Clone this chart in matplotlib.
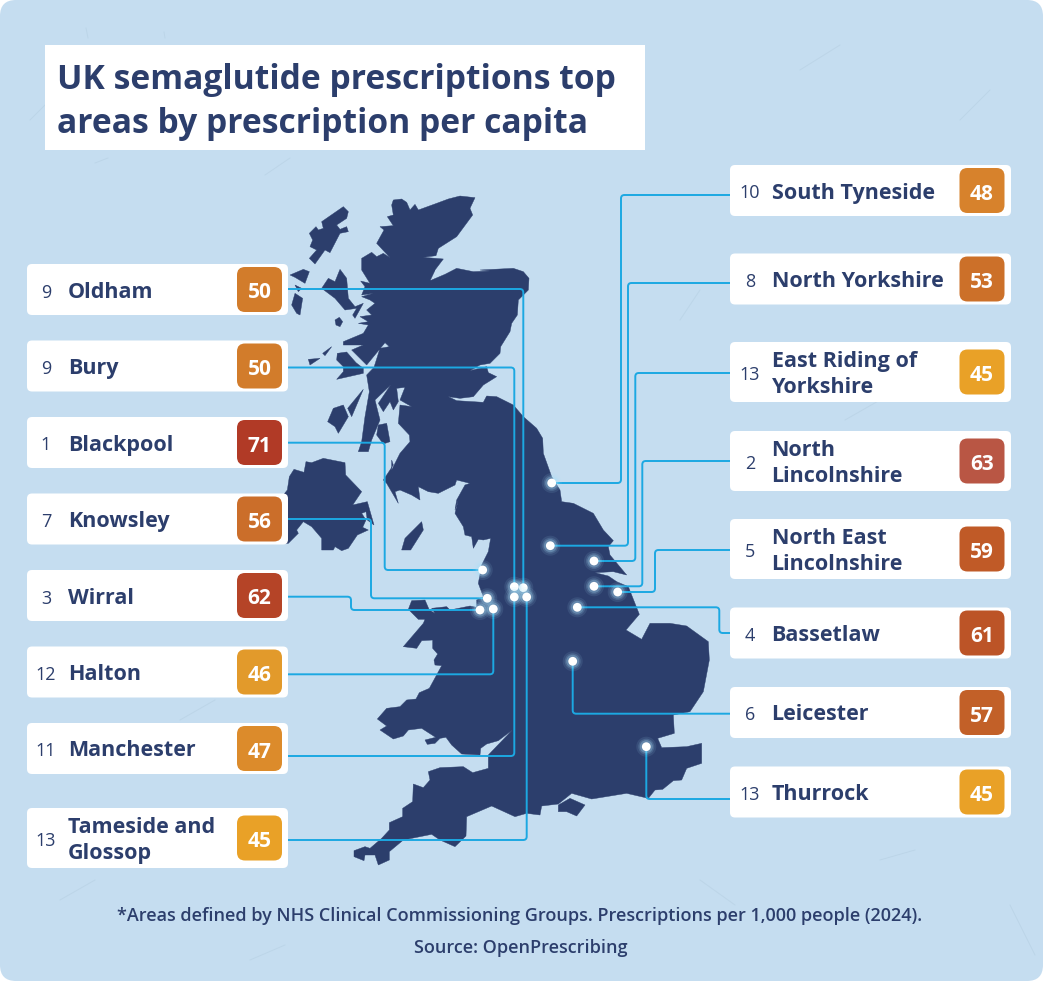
import matplotlib
matplotlib.use("Agg")
import matplotlib.pyplot as plt
from matplotlib.patches import FancyBboxPatch, Polygon, PathPatch, Circle
from matplotlib.path import Path

plt.rcParams['font.family'] = ['Open Sans', 'DejaVu Sans']

navy = '#2C3E6C'
line_blue = '#1CA8E2'
sea = '#C5DDF0'

# left column
ranks_left = [9, 9, 1, 7, 3, 12, 11, 13]
names_left = ['Oldham', 'Bury', 'Blackpool', 'Knowsley', 'Wirral', 'Halton', 'Manchester', 'Tameside and\nGlossop']
values_left = [50, 50, 71, 56, 62, 46, 47, 45]
colors_left = ['#D27C2B', '#D27C2B', '#B13A26', '#CB6E2A', '#B54427', '#E29A2B', '#DC8B2B', '#E9A127']
y_left = [289.5, 366, 442.5, 519, 595.5, 672, 748.5, 838]

# right column
ranks_right = [10, 8, 13, 2, 5, 4, 6, 13]
names_right = ['South Tyneside', 'North Yorkshire', 'East Riding of\nYorkshire', 'North\nLincolnshire',
               'North East\nLincolnshire', 'Bassetlaw', 'Leicester', 'Thurrock']
values_right = [48, 53, 45, 63, 59, 61, 57, 45]
colors_right = ['#D7822C', '#CC7029', '#E9A127', '#B95644', '#C05A27', '#BC5427', '#C26028', '#E9A127']
y_right = [190.5, 279, 372, 461, 549, 633, 712.5, 792]

# connector routes, label end first, dot last
routes_left = [
    [(288, 289), (523.3, 289), (523.3, 587.7)],
    [(288, 367.5), (514.3, 367.5), (514.3, 586.7)],
    [(288, 442.7), (384.7, 442.7), (384.7, 570), (482.7, 570)],
    [(288, 519), (371, 519), (371, 598.3), (487.3, 598.3)],
    [(288, 596.7), (351, 596.7), (351, 610), (480, 610)],
    [(288, 674.3), (493.3, 674.3), (493.3, 609)],
    [(288, 756), (514.3, 756), (514.3, 597)],
    [(288, 840), (526.7, 840), (526.7, 597)],
]
routes_right = [
    [(730, 195), (621, 195), (621, 483), (551.7, 483)],
    [(730, 283), (628, 283), (628, 545.7), (550.3, 545.7)],
    [(730, 373), (635.3, 373), (635.3, 561), (594, 561)],
    [(730, 461), (642.3, 461), (642.3, 586.3), (594, 586.3)],
    [(730, 550), (655, 550), (655, 592), (617.7, 592)],
    [(730, 633), (719.3, 633), (719.3, 607.3), (577.3, 607.3)],
    [(730, 713.7), (572.7, 713.7), (572.7, 661.3)],
    [(730, 799), (646.3, 799), (646.3, 746.7)],
]

# map outlines, each list in its own 3x crop
highland_north = [(100, 15), (125, 12), (140, 22), (150, 45), (165, 28), (175, 45), (230, 25), (265, 12), (300, 3), (345, 8),
                  (330, 40), (338, 60), (290, 125), (235, 160), (228, 182), (190, 187), (250, 192), (225, 225), (175, 245),
                  (185, 232), (225, 226), (205, 268), (175, 272), (255, 238), (290, 220), (340, 230), (390, 228)]
east_scotland = [(600, 240), (700, 235), (730, 245), (747, 265), (745, 300), (715, 330), (712, 375), (695, 400), (690, 425),
                 (662, 470), (660, 490), (630, 520), (600, 525), (570, 542), (620, 530), (625, 548), (650, 560), (610, 585),
                 (580, 620), (540, 625), (505, 620), (530, 632), (610, 637), (620, 618), (650, 620), (700, 645), (730, 680),
                 (770, 715), (788, 745), (790, 790), (815, 860), (840, 900)]
south_coast = [(665, 5), (700, 10), (760, 40), (790, 90), (820, 122), (805, 140), (810, 165), (860, 225), (820, 215),
               (765, 218), (805, 228), (830, 245), (865, 260), (898, 343), (858, 390), (905, 418), (930, 370), (990, 370),
               (1040, 378), (1105, 425), (1108, 480), (1090, 575), (1050, 635), (1000, 645), (1003, 700), (953, 715),
               (965, 743), (1040, 740), (1085, 730), (1085, 790), (1040, 805), (1025, 840), (1000, 842), (968, 868),
               (945, 870), (925, 895), (860, 880), (755, 897), (695, 880), (655, 912), (605, 918), (600, 945), (560, 940),
               (525, 950), (455, 918), (380, 950), (378, 1008), (345, 1040), (300, 1020), (275, 1003), (190, 1020),
               (148, 1055), (148, 1080), (115, 1095), (105, 1065), (75, 1065), (72, 1082), (42, 1070), (42, 1052),
               (75, 1040), (90, 1045), (125, 1015), (148, 990), (148, 968), (188, 950), (188, 925), (218, 905), (220, 852),
               (250, 863), (270, 840), (265, 815), (300, 803), (370, 800), (398, 818), (445, 805), (445, 765), (517, 690),
               (475, 722), (440, 732), (422, 745), (420, 765), (365, 762), (335, 735), (318, 712), (300, 715), (285, 730),
               (262, 733), (255, 720), (287, 712), (245, 685), (205, 690), (190, 708), (160, 717), (120, 690), (140, 678),
               (112, 657), (140, 625), (180, 620), (200, 600), (228, 597), (238, 578), (268, 565), (305, 497), (285, 495),
               (282, 480), (293, 462), (278, 445), (278, 420), (245, 422), (230, 445), (190, 440), (250, 370), (255, 358),
               (235, 358), (205, 328), (215, 302), (255, 300), (268, 330), (285, 340), (275, 325), (320, 320), (330, 330),
               (390, 318), (410, 322), (410, 300), (430, 290), (415, 250), (425, 195), (445, 155), (452, 115), (430, 120),
               (415, 118), (400, 145), (395, 110), (375, 105), (370, 80), (345, 40), (355, 0)]
solway = [(525, 960), (530, 930), (555, 885), (570, 880), (530, 870), (525, 885), (475, 910), (445, 905), (415, 890),
          (420, 930), (395, 915), (360, 900), (345, 905), (355, 940), (320, 880), (310, 870), (340, 825), (335, 810)]
clyde = [(125, 390), (150, 340), (180, 305), (178, 285), (145, 250), (150, 195), (185, 200), (150, 180), (165, 142),
         (140, 145), (145, 185), (130, 210), (120, 185), (100, 215), (85, 190), (122, 135), (75, 180), (90, 240),
         (65, 300), (55, 335), (25, 335), (35, 305), (45, 230), (58, 155), (50, 105), (72, 82), (90, 25), (118, 20),
         (105, 8), (50, 75)]
west_lochs = [(215, 480), (250, 465), (190, 465), (190, 455), (250, 430), (265, 405), (235, 400), (265, 395), (240, 380),
              (275, 375), (260, 360), (285, 340), (270, 330), (245, 320), (280, 310), (245, 315), (255, 290)]
highland_west = [(2, 258), (30, 265), (5, 225), (5, 190), (35, 172), (50, 185), (70, 175), (90, 188), (50, 145), (72, 105),
                 (60, 95), (100, 92), (82, 65), (100, 60), (95, 30)]
islands_a = [
    [(205, 65), (190, 50), (125, 95), (130, 115), (115, 120), (108, 110), (88, 130), (98, 150), (90, 170), (110, 180),
     (88, 205), (105, 222), (135, 180), (150, 188), (180, 130), (205, 125), (200, 110), (180, 118), (170, 105), (200, 85)],
    [(30, 255), (70, 238), (88, 245), (75, 280), (45, 262)],
    [(45, 285), (65, 295), (55, 305)],
    [(45, 310), (68, 325), (60, 375), (50, 370), (35, 345)],
    [(180, 238), (200, 265), (205, 325), (225, 350), (250, 340), (225, 385), (218, 375), (230, 355), (195, 360),
     (165, 325), (125, 295), (145, 265), (165, 275)],
    [(165, 390), (178, 382), (188, 395), (180, 410), (168, 405)],
    [(85, 508), (120, 505), (90, 525)],
    [(128, 490), (155, 470), (135, 497)],
    [(172, 490), (200, 486), (228, 518), (250, 535), (250, 550), (170, 568), (190, 545), (190, 530), (170, 510)],
    [(250, 598), (215, 680), (203, 655)],
    [(160, 655), (190, 645), (205, 680), (175, 730), (165, 710), (143, 695)],
    [(295, 705), (320, 700), (330, 755), (310, 762), (290, 735)],
]
ireland = [(0, 165), (10, 165), (22, 150), (28, 110), (42, 88), (72, 97), (78, 65), (95, 68), (130, 55), (195, 68),
           (197, 105), (245, 155), (218, 195), (262, 185), (282, 255), (262, 240), (258, 215), (245, 220), (258, 240),
           (248, 262), (265, 270), (232, 285), (205, 325), (185, 332), (165, 320), (160, 330), (125, 330), (125, 295),
           (95, 260), (70, 245), (50, 270), (55, 280), (25, 310), (0, 310)]
islands_b = [
    [(245, 65), (250, 90), (212, 150), (185, 150), (195, 115)],
    [(655, 915), (690, 895), (735, 915), (710, 948), (680, 935), (655, 935)],
]

# a few of the paper fibres in the background
fibres = [[(86, 28), (88, 38)], [(164, 32), (165, 38)], [(95, 163), (108, 158)], [(160, 112), (200, 85)],
          [(265, 175), (290, 158)], [(30, 120), (45, 105)], [(800, 70), (840, 45)], [(960, 120), (990, 90)],
          [(700, 880), (735, 905)], [(1010, 905), (1035, 955)], [(60, 900), (95, 880)], [(880, 860), (915, 850)],
          [(680, 320), (700, 290)], [(180, 720), (215, 700)], [(845, 420), (880, 400)], [(250, 960), (285, 945)]]


def crop(pts, x0, y0):
    return [(x0 + x / 3, y0 + y / 3) for x, y in pts]


def rounded_line(pts, r=3.5):
    # polyline with small rounded elbows
    verts = [pts[0]]
    codes = [Path.MOVETO]
    for i in range(1, len(pts) - 1):
        x0, y0 = pts[i - 1]
        x1, y1 = pts[i]
        x2, y2 = pts[i + 1]
        d1 = max(abs(x1 - x0), abs(y1 - y0))
        d2 = max(abs(x2 - x1), abs(y2 - y1))
        a = (x1 - (x1 - x0) / d1 * r, y1 - (y1 - y0) / d1 * r)
        b = (x1 + (x2 - x1) / d2 * r, y1 + (y2 - y1) / d2 * r)
        verts += [a, (x1, y1), b]
        codes += [Path.LINETO, Path.CURVE3, Path.CURVE3]
    verts.append(pts[-1])
    codes.append(Path.LINETO)
    return Path(verts, codes)


def draw_label(x0, x1, yc, rank, name, value, color, rank_x, name_x, badge_x):
    two_lines = '\n' in name
    h = 60 if two_lines else 51
    ax.add_patch(FancyBboxPatch((x0, yc - h / 2), x1 - x0, h, boxstyle='round,pad=0,rounding_size=5',
                                fc='white', ec='none', zorder=5))
    ax.add_patch(FancyBboxPatch((badge_x, yc - 22.5), 45, 45, boxstyle='round,pad=0,rounding_size=8',
                                fc=color, ec='none', zorder=6))
    ax.text(rank_x, yc + 3, str(rank), ha='center', va='center', fontsize=13, color=navy, zorder=7)
    ax.text(name_x, yc + 2.5, name, ha='left', va='center', fontsize=15.45, fontweight='bold', color=navy,
            linespacing=1.36, zorder=7)
    ax.text(badge_x + 22.5, yc + 3.5, str(value), ha='center', va='center', fontsize=15, fontweight='bold',
            color='white', zorder=7)


fig = plt.figure(figsize=(10.43, 9.83), dpi=100, facecolor='white')
ax = fig.add_axes([0, 0, 1, 1])
ax.set_xlim(0, 1043)
ax.set_ylim(983, 0)
ax.axis('off')

ax.add_patch(FancyBboxPatch((0, 0), 1043, 981, boxstyle='round,pad=0,rounding_size=16', fc=sea, ec='none', zorder=0))
for f in fibres:
    ax.plot([f[0][0], f[1][0]], [f[0][1], f[1][1]], color='#9DB9CC', lw=0.7, alpha=0.22, zorder=0.5)

# title
ax.add_patch(plt.Rectangle((45, 45), 600, 105, fc='white', ec='none', zorder=1))
ax.text(57, 102, 'UK semaglutide prescriptions top\nareas by prescription per capita', ha='left', va='center',
        fontsize=24.2, fontweight='bold', color=navy, linespacing=1.36, zorder=2)

# map
gb = (crop(highland_north, 360, 195) + crop(east_scotland, 280, 190) + crop(south_coast, 340, 500)
      + crop(solway, 280, 190) + crop(clyde, 350, 340) + crop(west_lochs, 280, 190) + crop(highland_west, 360, 195))
ax.add_patch(Polygon(gb, closed=True, fc=navy, ec=navy, lw=0.3, zorder=2))
for isl in islands_a:
    ax.add_patch(Polygon(crop(isl, 280, 190), closed=True, fc=navy, ec=navy, lw=0.3, zorder=2))
for isl in islands_b:
    ax.add_patch(Polygon(crop(isl, 340, 500), closed=True, fc=navy, ec=navy, lw=0.3, zorder=2))
ax.add_patch(Polygon(crop(ireland, 280, 440), closed=True, fc=navy, ec=navy, lw=0.3, zorder=2))

# connectors and dots
for route in routes_left + routes_right:
    ax.add_patch(PathPatch(rounded_line(route), fc='none', ec=line_blue, lw=1.4, zorder=3))
    dot = route[-1]
    for rad, alpha in [(10, 0.1), (8, 0.16), (6.5, 0.28)]:
        ax.add_patch(Circle(dot, rad, fc='#A9E2FA', ec='none', alpha=alpha, zorder=4))
    ax.add_patch(Circle(dot, 4.4, fc='white', ec='none', zorder=4))

# labels
for i in range(len(names_left)):
    draw_label(27, 288, y_left[i], ranks_left[i], names_left[i], values_left[i], colors_left[i], 46, 68, 237)
for i in range(len(names_right)):
    draw_label(730, 1011, y_right[i], ranks_right[i], names_right[i], values_right[i], colors_right[i], 750, 771.5, 959.5)

# footer
ax.text(520, 916, '*Areas defined by NHS Clinical Commissioning Groups. Prescriptions per 1,000 people (2024).',
        ha='center', va='center', fontsize=13, fontweight='semibold', color=navy)
ax.text(521, 948, 'Source: OpenPrescribing', ha='center', va='center', fontsize=13, fontweight='semibold', color=navy)

fig.savefig('out.png', dpi=100)
